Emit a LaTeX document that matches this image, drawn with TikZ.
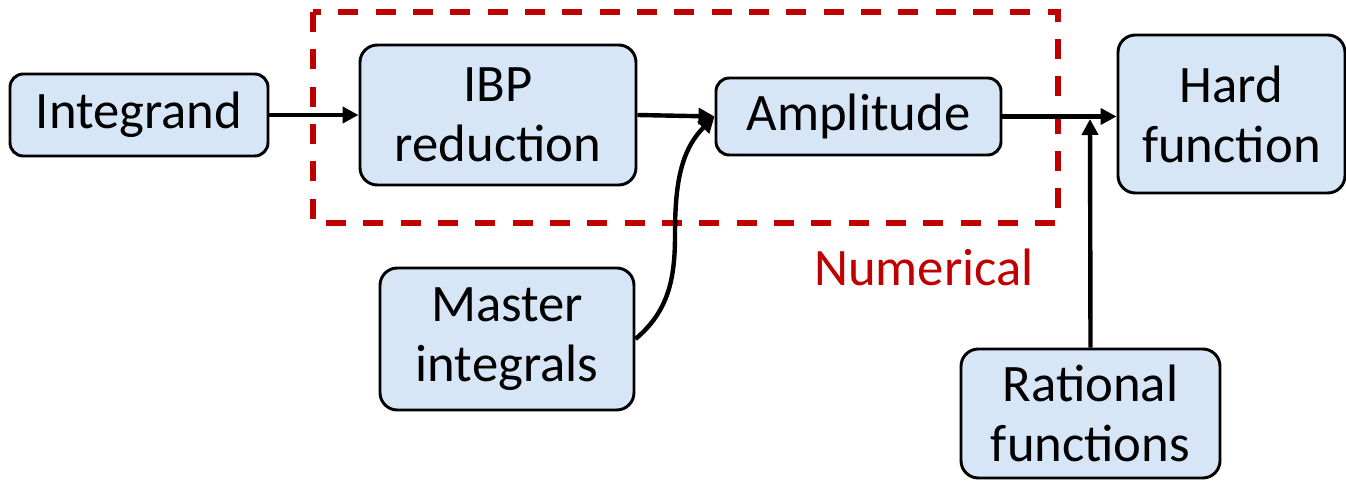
\documentclass[tikz,border=0pt]{standalone}
\usepackage{fontspec}
\setmainfont{Carlito}
\usetikzlibrary{arrows.meta}
\definecolor{boxfill}{RGB}{214,230,246}
\definecolor{numred}{RGB}{192,0,0}
\begin{document}
\begin{tikzpicture}[x=0.75pt,y=-0.75pt,
  blk/.style={draw=black,line width=2.2pt,fill=boxfill,rounded corners=13pt,
    align=center,inner sep=0pt,font=\fontsize{39.5}{45}\selectfont},
  conn/.style={line width=3.3pt,-{Triangle[length=12pt,width=12pt]}}]
\useasboundingbox (0,0) rectangle (1346,481);
\draw[numred,line width=5pt,dash pattern=on 15pt off 13pt] (313,12) rectangle (1058,223);
\node[blk,minimum width=193.5pt,minimum height=61.5pt,rounded corners=10pt] (integ) at (139,115) {Integrand};
\node[blk,minimum width=207pt,minimum height=105pt] (ibp) at (498,115) {IBP\\reduction};
\node[blk,minimum width=213.75pt,minimum height=57.75pt,rounded corners=10pt] (amp) at (858.5,116.5) {Amplitude};
\node[blk,minimum width=170.25pt,minimum height=118.5pt] (hard) at (1231.5,114) {Hard\\function};
\node[blk,minimum width=190.5pt,minimum height=106.5pt] (mast) at (507,339) {Master\\integrals};
\node[blk,minimum width=194.25pt,minimum height=96.75pt] (rat) at (1090.5,413.5) {Rational\\functions};
\node[text=numred,font=\fontsize{39.5}{45}\selectfont,anchor=center] (num) at (924,267) {Numerical};
\coordinate (junc) at (1090,119);
\draw[conn] (integ.east) -- (ibp.west);
\draw[conn] (ibp.east) -- (amp.west);
\draw[conn] (mast.east) to[out=40,in=-90] (675,235) to[out=90,in=225] (amp.west);
\draw[conn] (amp.east) -- (amp.east -| hard.west);
\draw[conn] (rat.north) -- (junc);
\end{tikzpicture}
\end{document}
